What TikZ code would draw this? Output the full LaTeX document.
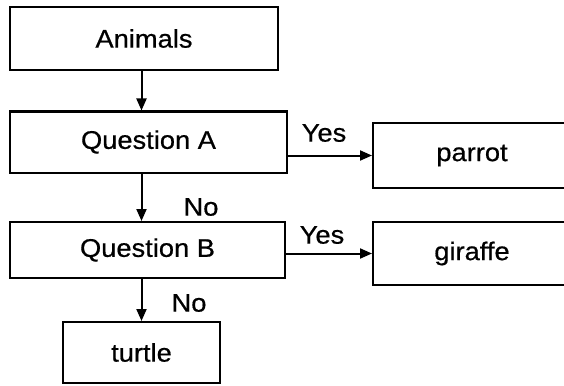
\documentclass[tikz,border=0pt]{standalone}
\usepackage{fontspec}
\setmainfont[FakeStretch=1.07,FakeBold=0.6]{Liberation Sans}
\usetikzlibrary{arrows.meta}
\begin{document}
\begin{tikzpicture}[x=1pt,y=-1pt,
  box/.style={draw,line width=2pt,inner sep=0pt,font=\fontsize{25.5}{30}\selectfont},
  lbl/.style={inner sep=0pt,font=\fontsize{25.5}{30}\selectfont},
  arr/.style={line width=2pt,-{Triangle[length=12pt,width=10pt]}}]
\useasboundingbox[fill=white] (0,0) rectangle (564,385);
\node[box,minimum width=268pt,minimum height=63pt] (animals) at (144,38.5) {Animals};
\node[box,minimum width=277pt,minimum height=61pt] (qa) at (148.5,142) {Question A};
\node[box,minimum width=275pt,minimum height=56pt] (qb) at (147.5,250) {Question B};
\node[box,minimum width=157pt,minimum height=61pt] (turtle) at (141.5,352.5) {turtle};
\node[box,minimum width=198pt,minimum height=65pt] (parrot) at (472,155.5) {parrot};
\node[box,minimum width=198pt,minimum height=63pt] (giraffe) at (472,253.5) {giraffe};
\draw[arr] (animals.south -| turtle.north) -- (qa.north -| turtle.north);
\draw[arr] (qa.south -| turtle.north) -- (qb.north -| turtle.north);
\draw[arr] (qb.south -| turtle.north) -- (turtle.north);
\draw[arr] (qa.east |- parrot.west) -- (parrot.west);
\draw[arr] (qb.east |- giraffe.west) -- (giraffe.west);
\node[lbl] (yesa) at (324,133) {Yes};
\node[lbl] (yesb) at (322,235) {Yes};
\node[lbl] (noa) at (201,207) {No};
\node[lbl] (nob) at (189,303) {No};
\end{tikzpicture}
\end{document}
